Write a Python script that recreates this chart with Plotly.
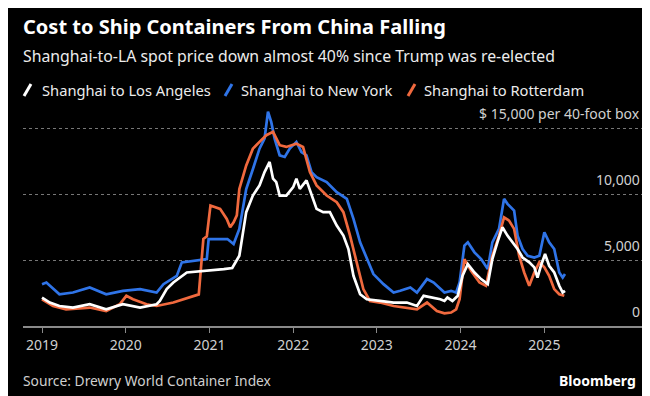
import plotly.graph_objects as go

# ---------------- data (USD per 40-foot container, Drewry WCI) ----------------
la_dates = ["2019-01-01","2019-02-04","2019-03-18","2019-05-16","2019-07-28","2019-10-08","2019-12-20",
            "2020-03-04","2020-05-15","2020-05-29","2020-06-28","2020-07-27","2020-09-24","2021-01-04",
            "2021-03-04","2021-04-10","2021-05-11","2021-06-10","2021-07-09","2021-08-07","2021-08-29",
            "2021-09-20","2021-10-05","2021-10-19","2021-11-03","2021-12-02","2022-01-01","2022-01-15",
            "2022-01-30","2022-02-28","2022-03-22","2022-04-13","2022-05-12","2022-06-10","2022-07-10",
            "2022-08-08","2022-08-30","2022-09-21","2022-10-20","2022-11-18","2023-01-15","2023-03-15",
            "2023-05-12","2023-06-25","2023-07-24","2023-09-06","2023-10-05","2023-10-23","2023-11-05",
            "2023-11-27","2023-12-20","2024-01-10","2024-02-02","2024-03-02","2024-03-31","2024-04-29",
            "2024-05-19","2024-06-10","2024-07-02","2024-07-24","2024-08-15","2024-09-06","2024-09-28",
            "2024-10-27","2024-11-18","2024-12-02","2024-12-17","2025-01-04","2025-01-22","2025-02-13",
            "2025-03-07","2025-03-22","2025-04-01"]
la_values = [2160,1780,1520,1400,1650,1270,1650,
             1400,1650,1900,2800,3300,4060,4190,
             4320,4400,5330,8640,9900,10670,11680,
             12450,11180,10920,9900,9900,10540,11180,
             10410,11050,9900,8890,8640,8640,7620,
             6860,5840,3810,2410,2030,1900,1780,
             1780,1520,2290,2160,2030,1900,2160,
             1900,2290,3810,4700,4060,3560,3175,
             5080,6350,7490,6860,6350,5840,5200,
             4830,4450,3680,4570,5460,4570,4060,
             3050,2540,2670]

ny_dates = ["2019-01-01","2019-01-20","2019-03-18","2019-05-16","2019-07-28","2019-10-08","2019-12-20",
            "2020-03-04","2020-05-15","2020-06-14","2020-08-11","2020-09-02","2020-12-20","2020-12-28",
            "2021-03-20","2021-04-16","2021-05-11","2021-06-10","2021-07-09","2021-08-07","2021-08-29",
            "2021-09-13","2021-09-27","2021-10-12","2021-11-03","2021-11-25","2021-12-17","2022-01-15",
            "2022-02-06","2022-02-28","2022-03-22","2022-04-13","2022-05-27","2022-07-10","2022-08-23",
            "2022-09-21","2022-10-20","2022-11-18","2022-12-17","2023-01-30","2023-03-15","2023-04-13",
            "2023-05-27","2023-06-25","2023-08-08","2023-09-06","2023-10-05","2023-10-23","2023-11-21",
            "2023-12-13","2023-12-28","2024-01-18","2024-02-02","2024-03-02","2024-03-31","2024-04-29",
            "2024-05-19","2024-06-17","2024-07-09","2024-07-24","2024-08-22","2024-09-06","2024-09-28",
            "2024-10-20","2024-11-18","2024-12-10","2025-01-01","2025-01-22","2025-02-13","2025-03-07",
            "2025-03-22","2025-04-01"]
ny_values = [3175,3300,2410,2540,2920,2410,2670,
             2800,2540,3175,3800,4830,5080,6600,
             6600,6220,7370,10400,11900,13460,14220,
             16260,15490,14220,12950,12830,13460,13970,
             13200,12950,11680,11300,10920,10160,9650,
             8130,6350,5080,3940,3175,2540,2670,
             2920,2540,3560,3300,2800,2540,2670,
             2540,3300,6100,6350,5590,5080,4320,
             6350,7370,9650,9270,8760,6860,5840,
             5330,5200,5330,7110,6350,5840,4060,
             3680,3940]

rot_dates = ["2019-01-01","2019-02-18","2019-04-16","2019-07-28","2019-10-08","2019-12-06","2020-01-04",
             "2020-02-02","2020-04-01","2020-05-15","2020-07-27","2020-09-09","2020-10-23","2020-11-15",
             "2020-11-25","2020-12-05","2020-12-20","2021-01-05","2021-02-16","2021-03-17","2021-04-01",
             "2021-04-16","2021-04-30","2021-05-11","2021-06-10","2021-07-09","2021-08-07","2021-09-06",
             "2021-10-05","2021-11-03","2021-12-02","2022-01-15","2022-02-13","2022-03-15","2022-04-13",
             "2022-05-27","2022-07-10","2022-08-08","2022-09-06","2022-10-05","2022-11-03","2022-12-02",
             "2023-01-15","2023-03-15","2023-05-12","2023-06-25","2023-08-08","2023-09-20","2023-10-23",
             "2023-11-21","2023-12-13","2023-12-28","2024-01-18","2024-02-16","2024-03-24","2024-04-21",
             "2024-05-19","2024-06-17","2024-07-09","2024-07-31","2024-08-22","2024-09-13","2024-10-05",
             "2024-10-27","2024-11-18","2024-12-10","2025-01-01","2025-01-22","2025-02-13","2025-03-07",
             "2025-03-29"]
rot_values = [2030,1520,1270,1400,1140,1650,2290,
              2030,1650,1520,1780,2030,2290,2400,
              4500,6600,6800,9140,8890,8130,7490,
              7870,8400,10400,12190,13460,13970,14480,
              14730,13720,13590,13840,13590,11680,10670,
              9900,9400,8640,6860,4830,2800,1900,
              1780,1520,1400,1270,1780,1140,965,
              1020,1270,2030,5080,4190,3300,3050,
              5330,6860,8250,8000,7370,5330,4060,
              3050,4060,4830,4450,3810,2800,2410,
              2290]

series_names = ["Shanghai to Los Angeles", "Shanghai to New York", "Shanghai to Rotterdam"]
series_colors = ["#ffffff", "#2f74e8", "#f0693e"]
y_ticks = [0, 5000, 10000, 15000]
y_tick_text = ["0", "5,000", "10,000", "$ 15,000 per 40-foot box"]
x_ticks = ["2019-01-01","2020-01-01","2021-01-01","2022-01-01","2023-01-01","2024-01-01","2025-01-01"]

title = "Cost to Ship Containers From China Falling"
subtitle = "Shanghai-to-LA spot price down almost 40% since Trump was re-elected"
source = "Source: Drewry World Container Index"

# ---------------- layout geometry ----------------
W, H = 650, 396
ML, MR, MT, MB = 15, 16, 94, 78
PW, PH = W - ML - MR, H - MT - MB
FONT = "Noto Sans"


def px(x):
    return (x - ML) / PW


def py(y):
    return (H - MB - y) / PH


fig = go.Figure()
# draw order: blue, orange, white on top
for dates, vals, i in [(ny_dates, ny_values, 1), (rot_dates, rot_values, 2), (la_dates, la_values, 0)]:
    fig.add_trace(go.Scatter(x=dates, y=vals, mode="lines", name=series_names[i],
                             line=dict(color=series_colors[i], width=2.7), showlegend=False))

ann = []
ann.append(dict(text="<b>" + title + "</b>", x=px(15), y=py(18), xanchor="left", yanchor="middle",
                font=dict(size=20, color="#ffffff", family=FONT), xshift=-2))
ann.append(dict(text=subtitle, x=px(15), y=py(48), xanchor="left", yanchor="middle",
                font=dict(size=15.8, color="#ececec", family=FONT), xshift=-2))
# legend
legend_slash_x = [16, 217, 400]
legend_text_x = [34, 233, 416]
legend_y = 82
shapes = []
for i in range(3):
    shapes.append(dict(type="line", xref="paper", yref="paper",
                       x0=px(legend_slash_x[i]), y0=py(legend_y + 6),
                       x1=px(legend_slash_x[i] + 7), y1=py(legend_y - 6),
                       line=dict(color=series_colors[i], width=3)))
    ann.append(dict(text=series_names[i], x=px(legend_text_x[i]), y=py(legend_y), xanchor="left",
                    yanchor="middle", font=dict(size=14.7, color="#ececec", family=FONT), xshift=-2))
# y labels above gridlines
for v, t in zip(y_ticks, y_tick_text):
    ann.append(dict(text=t, x=1, xref="paper", y=v, yref="y", xanchor="right", yanchor="middle",
                    yshift=15, font=dict(size=14, color="#d0d0d0", family=FONT)))
ann.append(dict(text=source, x=px(15), y=py(372), xanchor="left", yanchor="middle",
                font=dict(size=13.8, color="#cfcfcf", family=FONT), xshift=-2))
ann.append(dict(text="<b>Bloomberg</b>", x=px(630), y=py(372), xanchor="right", yanchor="middle",
                font=dict(size=14, color="#ffffff", family=FONT)))
for a in ann:
    a.setdefault("xref", "paper")
    a.setdefault("yref", "paper")
    a["showarrow"] = False

fig.update_layout(
    width=W, height=H, margin=dict(l=ML, r=MR, t=MT, b=MB),
    paper_bgcolor="#000000", plot_bgcolor="#000000",
    font=dict(family=FONT, color="#d0d0d0"),
    annotations=ann, shapes=shapes, showlegend=False,
    xaxis=dict(type="date", range=["2018-10-10", "2026-03-03"], tickvals=x_ticks, tickformat="%Y",
               ticks="outside", ticklen=5, tickcolor="#8a8a8a", showline=True, linecolor="#8a8a8a",
               linewidth=1.5, showgrid=False, zeroline=False, ticklabelstandoff=0,
               tickfont=dict(size=14, color="#d0d0d0", family=FONT)),
    yaxis=dict(range=[0, 17000], tickvals=y_ticks[1:], showticklabels=False, showgrid=True,
               gridcolor="#777777", griddash="dot", gridwidth=1, zeroline=False, showline=False),
)

fig.write_html("out.html")
